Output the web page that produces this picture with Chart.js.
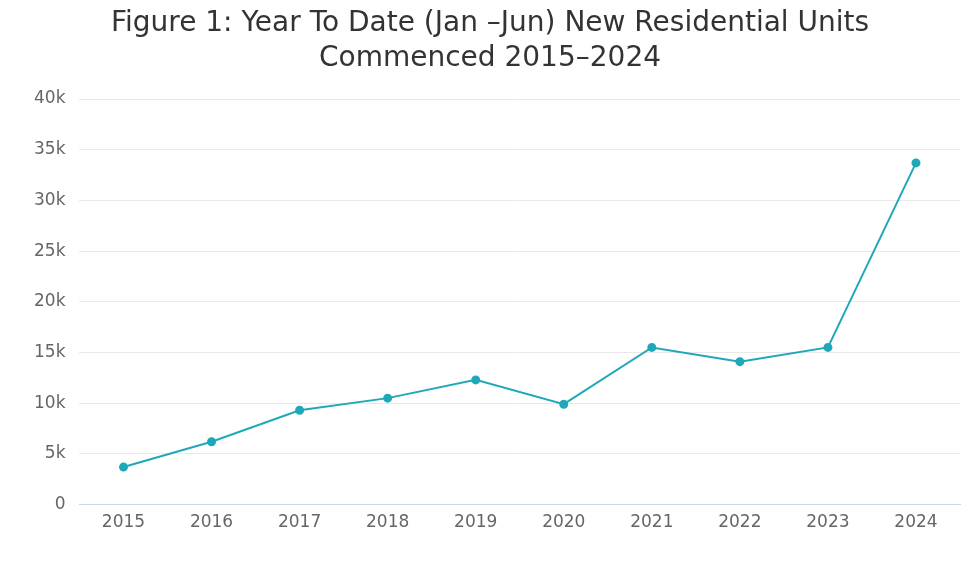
<!DOCTYPE html>
<html>
<head>
<meta charset="utf-8">
<script src="https://cdn.jsdelivr.net/npm/chart.js@4/dist/chart.umd.min.js"></script>
<style>
html,body{margin:0;padding:0;background:#fff;}
#wrap{width:974px;height:562px;}
</style>
</head>
<body>
<div id="wrap"><canvas id="c" width="974" height="562"></canvas></div>
<script>
const titleLines = ["Figure 1: Year To Date (Jan –Jun) New Residential Units", "Commenced 2015–2024"];
const years = ["2015","2016","2017","2018","2019","2020","2021","2022","2023","2024"];
const unitsCommenced = [3700, 6200, 9300, 10500, 12300, 9900, 15500, 14100, 15500, 33700];
const yMax = 40000;
const yStep = 5000;
const FONT = "DejaVu Sans";

new Chart(document.getElementById('c'), {
  type: 'line',
  data: {
    labels: years,
    datasets: [{
      data: unitsCommenced,
      borderColor: '#1ea8b8',
      backgroundColor: '#1ea8b8',
      borderWidth: 2,
      pointRadius: 3.5,
      pointHoverRadius: 3.5,
      tension: 0,
      fill: false
    }]
  },
  options: {
    responsive: false,
    animation: false,
    layout: { padding: { left: 20, right: 14, top: 0, bottom: 21 } },
    plugins: {
      legend: { display: false },
      tooltip: { enabled: false },
      title: {
        display: true,
        text: titleLines,
        color: '#333333',
        font: { family: FONT, size: 28, weight: 'normal', lineHeight: 1.25 },
        padding: { top: 6, bottom: 23 }
      }
    },
    scales: {
      x: {
        offset: true,
        grid: { display: false, drawTicks: false },
        border: { display: true, color: '#ccd6eb', width: 1 },
        ticks: { color: '#666666', font: { family: FONT, size: 17 }, padding: 8, maxRotation: 0 }
      },
      y: {
        min: 0,
        max: yMax,
        grid: { color: '#e9e9e9', drawTicks: false },
        border: { display: false },
        ticks: {
          stepSize: yStep,
          color: '#666666',
          font: { family: FONT, size: 17 },
          padding: 14,
          callback: v => v === 0 ? '0' : (v / 1000) + 'k'
        }
      }
    }
  }
});
</script>
</body>
</html>
